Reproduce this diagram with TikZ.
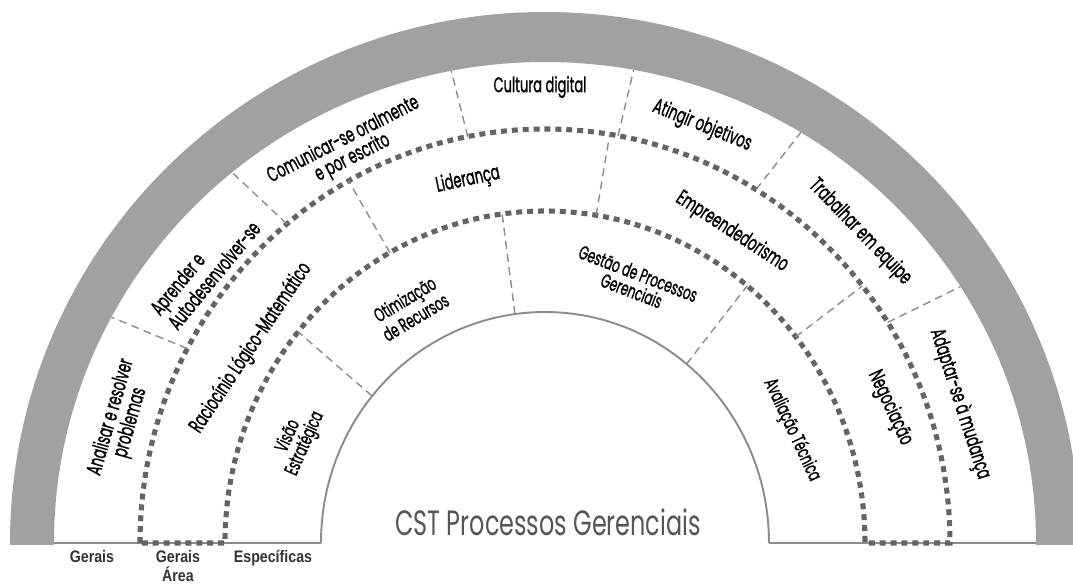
\documentclass[tikz,border=0pt]{standalone}
\usepackage{fontspec}
\setmainfont{Poppins}[FakeBold=1.5]
\newfontfamily\titlefont{Poppins}
\newfontfamily\legendfont{Liberation Sans}
\definecolor{bandgray}{RGB}{163,160,160}
\definecolor{dotgray}{RGB}{100,100,100}
\definecolor{linegray}{RGB}{140,140,140}
\definecolor{titlegray}{RGB}{85,85,85}
\tikzset{
  ringlabel/.style={xscale=0.62, font=\fontsize{12}{11.5}\selectfont, align=center, inner sep=0pt},
  innerlabel/.style={ringlabel, font=\fontsize{11}{10.5}\selectfont},
  separator/.style={linegray, line width=0.8pt, dash pattern=on 4.5pt off 3pt},
  ringline/.style={dotgray, line width=2.9pt, dash pattern=on 3.4pt off 2.8pt},
  legend/.style={xscale=0.85, font=\legendfont\bfseries\fontsize{9.5}{11}\selectfont, text=black!80, align=center, inner sep=0pt, anchor=north}
}
\begin{document}
\begin{tikzpicture}[x=0.2mm,y=0.2mm]
  \useasboundingbox (-545,-42) rectangle (528,543);
  % outer band
  \fill[bandgray] (-535,-2) -- (-535,0) arc[start angle=180, end angle=0, x radius=535, y radius=531]
    -- (535,-2) -- (491,-2) -- (491,0) arc[start angle=0, end angle=180, x radius=491, y radius=481]
    -- (-491,-2) -- cycle;
  % base and inner half circle
  \draw[linegray, line width=0.8pt] (-491,0) -- (-224,0) (224,0) -- (491,0);
  \draw[linegray, line width=1.1pt] (224,0) arc[start angle=0, end angle=180, x radius=224, y radius=231];
  % ring borders
  \draw[ringline] (-405,0) arc[start angle=180, end angle=0, x radius=405, y radius=414]
    -- (320,0) arc[start angle=0, end angle=180, x radius=320, y radius=332] -- cycle;
  % separators
  \foreach \a in {152,129.6,101,79.6,58.6,32.2}
    \draw[separator] (\a:405 and 414) -- (\a:491 and 481);
  \foreach \a in {119,80.8,38.4}
    \draw[separator] (\a:320 and 332) -- (\a:405 and 414);
  \foreach \a in {140.5,97.7,50.8}
    \draw[separator] (\a:224 and 231) -- (\a:320 and 332);

  % gerais
  \node[rotate=74, ringlabel] (analisar) at (-424,123) {Analisar e resolver\\problemas};
  \node[rotate=50.5, ringlabel, align=left] (aprender) at (-340,275) {Aprender e\\Autodesenvolver-se};
  \node[rotate=27, ringlabel] (comunicar) at (-197,394) {Comunicar-se oralmente\\e por escrito};
  \node[rotate=0, ringlabel] (cultura) at (-5,456) {Cultura digital};
  \node[rotate=-22, ringlabel] (atingir) at (157,417) {Atingir objetivos};
  \node[rotate=-46, ringlabel] (trabalhar) at (315,311) {Trabalhar em equipe};
  \node[rotate=-72, ringlabel] (adaptar) at (415,139) {Adaptar-se à mudança};
  % gerais area
  \node[rotate=56, ringlabel] (raciocinio) at (-294,195) {Raciocínio Lógico-Matemático};
  \node[rotate=12, ringlabel] (lideranca) at (-77,363) {Liderança};
  \node[rotate=-33, ringlabel] (empreend) at (187,311) {Empreendedorismo};
  \node[rotate=-65, ringlabel] (negociacao) at (345,135) {Negociação};
  % especificas
  \node[rotate=66, innerlabel] (visao) at (-248,103) {Visão\\Estratégica};
  \node[rotate=31, innerlabel] (otimizacao) at (-135,235) {Otimização\\de Recursos};
  \node[rotate=-21, innerlabel] (gestao) at (90,261) {Gestão de Processos\\Gerenciais};
  \node[rotate=-65, innerlabel] (avaliacao) at (247,113) {Avaliação Técnica};

  \node[anchor=base, xscale=0.68, font=\titlefont\fontsize{20}{22}\selectfont, text=titlegray, inner sep=0pt] (titulo) at (3,8) {CST Processos Gerenciais};

  \node[legend] (gerais) at (-453,-7) {Gerais};
  \node[legend] (geraisarea) at (-367,-7) {Gerais\\Área};
  \node[legend] (especificas) at (-272,-7) {Específicas};
\end{tikzpicture}
\end{document}
